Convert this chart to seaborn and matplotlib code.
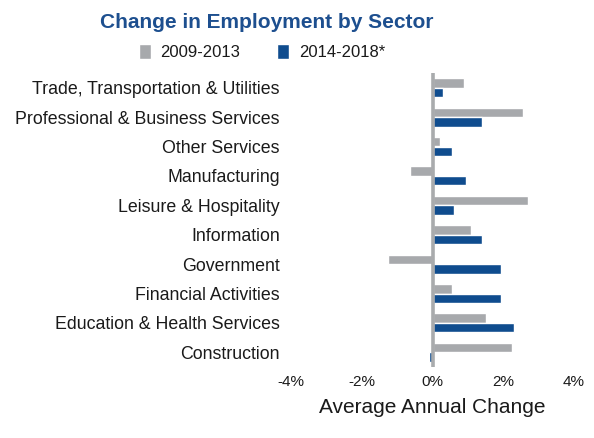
import matplotlib
matplotlib.use("Agg")
import matplotlib.pyplot as plt
import seaborn as sns
import pandas as pd

# Sectors listed top to bottom
sectors = [
    "Trade, Transportation & Utilities",
    "Professional & Business Services",
    "Other Services",
    "Manufacturing",
    "Leisure & Hospitality",
    "Information",
    "Government",
    "Financial Activities",
    "Education & Health Services",
    "Construction",
]
periods = ["2009-2013", "2014-2018*"]
change_2009_2013 = [0.9, 2.55, 0.22, -0.65, 2.7, 1.1, -1.25, 0.55, 1.5, 2.25]
change_2014_2018 = [0.3, 1.4, 0.55, 0.95, 0.6, 1.4, 1.95, 1.95, 2.3, -0.1]
x_ticks = [-4, -2, 0, 2, 4]
x_tick_labels = ["-4%", "-2%", "0%", "2%", "4%"]

df = pd.DataFrame({
    "Sector": sectors * 2,
    "Period": [periods[0]] * len(sectors) + [periods[1]] * len(sectors),
    "Change": change_2009_2013 + change_2014_2018,
})

sns.set_theme(style="white")
plt.rcParams["font.family"] = ["Liberation Sans", "DejaVu Sans"]

gray = "#a7a9ac"
blue = "#0f4c8e"
ink = "#1a1a1a"

fig = plt.figure(figsize=(5.94, 4.38), dpi=100)
ax = fig.add_axes([291 / 594, 1 - 367 / 438, 283 / 594, 294 / 438])

sns.barplot(
    data=df, y="Sector", x="Change", hue="Period",
    order=sectors, hue_order=periods,
    palette=[gray, blue], width=0.64, orient="h",
    saturation=1, ax=ax, legend=True,
)

ax.axvline(0, color="#a9abad", lw=2.6, zorder=5)
ax.set_xlim(-4, 4)
ax.set_ylim(len(sectors) - 0.5, -0.5)
ax.set_xticks(x_ticks)
ax.set_xticklabels(x_tick_labels, fontsize=11, color=ink)
ax.tick_params(axis="y", labelsize=12.8, length=0, pad=8, colors=ink)
ax.tick_params(axis="x", length=0, pad=6)
ax.set_ylabel("")
ax.set_xlabel("Average Annual Change", fontsize=15, color=ink, labelpad=6)
for s in ax.spines.values():
    s.set_visible(False)

handles, labels = ax.get_legend_handles_labels()
ax.get_legend().remove()
fig.legend(
    handles, labels, loc="center", bbox_to_anchor=(262 / 594, 1 - 52 / 438),
    ncol=2, frameon=False, fontsize=12, handlelength=0.72, handleheight=1.0,
    handletextpad=0.6, columnspacing=2.2, labelcolor=ink,
)

fig.text(267 / 594, 1 - 23 / 438, "Change in Employment by Sector",
         ha="center", va="center", fontsize=15, fontweight="bold", color="#1d4f8f")

fig.savefig("out.png", dpi=100)
